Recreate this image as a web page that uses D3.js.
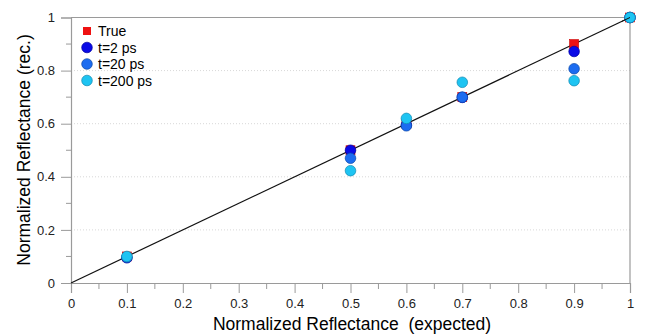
<!DOCTYPE html>
<html>
<head>
<meta charset="utf-8">
<script src="https://cdn.jsdelivr.net/npm/d3@7"></script>
<style>
  body { margin: 0; background: #fff; }
  svg { font-family: "Liberation Sans", Arial, sans-serif; }
</style>
</head>
<body>
<svg width="645" height="334"></svg>
<script>
// expected reflectance values
const expected = [0.1, 0.5, 0.6, 0.7, 0.9, 1.0];
// recovered values per series
const trueVals = [0.1, 0.5, 0.6, 0.7, 0.9, 1.0];
const t2 = [0.095, 0.5, 0.595, 0.699, 0.872, 1.0];
const t20 = [0.097, 0.47, 0.592, 0.70, 0.807, 1.0];
const t200 = [0.1, 0.423, 0.62, 0.756, 0.762, 1.0];
const xTicks = [0, 0.1, 0.2, 0.3, 0.4, 0.5, 0.6, 0.7, 0.8, 0.9, 1];
const yTicks = [0, 0.2, 0.4, 0.6, 0.8, 1];

const svg = d3.select("svg");
const x = d3.scaleLinear().domain([0, 1]).range([71, 630]);
const y = d3.scaleLinear().domain([0, 1]).range([283, 17.5]);
const axisColor = "#9a9a9a";
const fmt = d => d === 0 || d === 1 ? d3.format("d")(d) : d3.format(".1f")(d);

// dotted grid
svg.append("g").selectAll("line")
  .data([0.2, 0.4, 0.6, 0.8])
  .enter().append("line")
  .attr("x1", x(0)).attr("x2", x(1))
  .attr("y1", d => y(d)).attr("y2", d => y(d))
  .attr("stroke", "#d8d8d8").attr("stroke-dasharray", "1,2");

// frame top/right
svg.append("line").attr("x1", x(0)).attr("x2", x(1)).attr("y1", y(1)).attr("y2", y(1))
  .attr("stroke", axisColor).attr("stroke-width", 1.2);
svg.append("line").attr("x1", x(1)).attr("x2", x(1)).attr("y1", y(1)).attr("y2", y(0))
  .attr("stroke", axisColor).attr("stroke-width", 1.2);

// x axis
const xAxis = svg.append("g").attr("transform", "translate(0," + y(0) + ")")
  .call(d3.axisBottom(x).tickValues(xTicks).tickSize(10).tickPadding(6).tickFormat(fmt));
xAxis.append("g").selectAll("line")
  .data(d3.range(0.05, 1, 0.1))
  .enter().append("line")
  .attr("x1", d => x(d)).attr("x2", d => x(d)).attr("y1", 0).attr("y2", 6)
  .attr("stroke", axisColor);

// y axis
const yAxis = svg.append("g").attr("transform", "translate(" + x(0) + ",0)")
  .call(d3.axisLeft(y).tickValues(yTicks).tickSize(10).tickPadding(6).tickFormat(fmt));
yAxis.append("g").selectAll("line")
  .data(d3.range(0.1, 1, 0.2))
  .enter().append("line")
  .attr("x1", 0).attr("x2", -5).attr("y1", d => y(d)).attr("y2", d => y(d))
  .attr("stroke", axisColor);

svg.selectAll(".domain").attr("stroke", axisColor).attr("stroke-width", 1.2);
svg.selectAll(".tick line").attr("stroke", axisColor);
svg.selectAll(".tick text").attr("font-size", 13).attr("fill", "#222");

// diagonal
svg.append("line")
  .attr("x1", x(0)).attr("y1", y(0)).attr("x2", x(1)).attr("y2", y(1))
  .attr("stroke", "#111").attr("stroke-width", 1.2);

// True markers
svg.append("g").selectAll("rect")
  .data(expected.map((e, i) => [e, trueVals[i]]))
  .enter().append("rect")
  .attr("x", d => x(d[0]) - 4.5).attr("y", d => y(d[1]) - 4.5)
  .attr("width", 9).attr("height", 9)
  .attr("fill", "#ee1111").attr("stroke", "#c00").attr("stroke-width", 0.6);

const series = [
  { name: "t=2 ps", vals: t2, fill: "#0a0ae6", stroke: "#0000a0" },
  { name: "t=20 ps", vals: t20, fill: "#1c6cf0", stroke: "#0d4aa8" },
  { name: "t=200 ps", vals: t200, fill: "#1ec4f2", stroke: "#1088b0" }
];

series.forEach(s => {
  svg.append("g").selectAll("circle")
    .data(expected.map((e, i) => [e, s.vals[i]]))
    .enter().append("circle")
    .attr("cx", d => x(d[0])).attr("cy", d => y(d[1])).attr("r", 5.3)
    .attr("fill", s.fill).attr("stroke", s.stroke).attr("stroke-width", 0.7);
});

// diagonal passes over the last point
svg.append("line")
  .attr("x1", x(0.985)).attr("y1", y(0.985)).attr("x2", x(1)).attr("y2", y(1))
  .attr("stroke", "#111").attr("stroke-width", 1);

// legend
const leg = svg.append("g").attr("transform", "translate(87,31)");
leg.append("rect").attr("x", -4).attr("y", -4).attr("width", 8).attr("height", 8)
  .attr("fill", "#ee1111");
leg.append("text").attr("x", 11).attr("y", 5).attr("font-size", 14).text("True");
series.forEach((s, i) => {
  const gy = 16.5 * (i + 1);
  leg.append("circle").attr("cx", 0).attr("cy", gy).attr("r", 5.3)
    .attr("fill", s.fill).attr("stroke", s.stroke).attr("stroke-width", 0.7);
  leg.append("text").attr("x", 11).attr("y", gy + 5).attr("font-size", 14).text(s.name);
});

// axis titles
svg.append("text").attr("x", 352).attr("y", 330).attr("text-anchor", "middle")
  .attr("font-size", 17.5).attr("xml:space", "preserve")
  .text("Normalized Reflectance  (expected)");
svg.append("text")
  .attr("transform", "translate(30,150) rotate(-90)")
  .attr("text-anchor", "middle").attr("font-size", 17.5)
  .text("Normalized Reflectance (rec.)");
</script>
</body>
</html>
